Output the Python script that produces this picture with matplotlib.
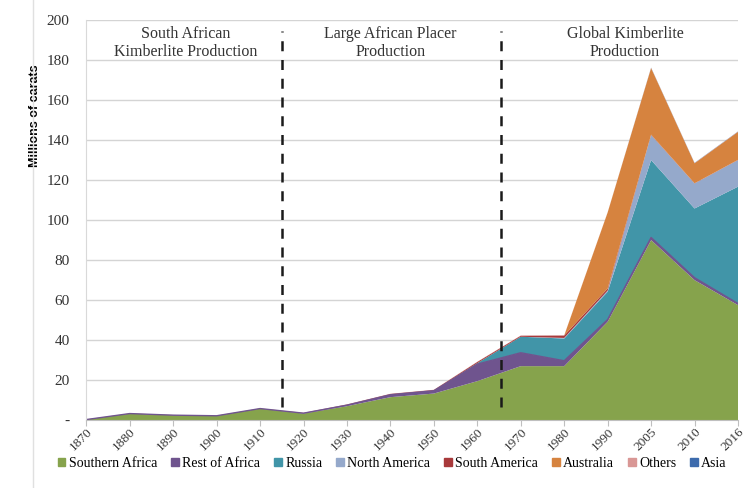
import matplotlib
matplotlib.use('Agg')
import matplotlib.pyplot as plt
import numpy as np

years = ['1870', '1880', '1890', '1900', '1910', '1920', '1930', '1940', '1950',
         '1960', '1970', '1980', '1990', '2005', '2010', '2016']
southern_africa = [0.3, 3.3, 2.5, 2.2, 5.8, 3.3, 7.0, 11.5, 13.3, 19.5, 27.0, 27.0, 49.2, 90.0, 70.0, 57.5]
rest_of_africa = [0, 0, 0, 0, 0, 0.2, 0.5, 1.2, 1.4, 8.5, 6.7, 2.7, 1.1, 1.3, 1.2, 0.8]
russia = [0, 0, 0, 0, 0, 0, 0, 0, 0, 0.5, 8.0, 11.1, 13.9, 38.7, 34.6, 58.4]
north_america = [0, 0, 0, 0, 0, 0, 0, 0, 0, 0, 0, 0.3, 0.6, 12.5, 12.5, 13.3]
south_america = [0, 0, 0, 0, 0, 0.1, 0.3, 0.4, 0.4, 0.6, 0.5, 1.2, 1.0, 0.2, 0.1, 0.1]
australia = [0, 0, 0, 0, 0, 0, 0, 0, 0, 0, 0, 0, 38.0, 33.3, 10.0, 14.0]
others = [0.1, 0.1, 0.1, 0.1, 0.1, 0.1, 0.1, 0.1, 0.1, 0.1, 0.1, 0.1, 0.1, 0.1, 0.1, 0.1]
asia = [0, 0, 0, 0, 0, 0, 0, 0, 0, 0, 0, 0, 0, 0.1, 0.1, 0.1]

series = [southern_africa, rest_of_africa, russia, north_america,
          south_america, australia, others, asia]
names = ['Southern Africa', 'Rest of Africa', 'Russia', 'North America',
         'South America', 'Australia', 'Others', 'Asia']
colors = ['#86A34C', '#6F548E', '#4195A8', '#95A9CB', '#A8393B', '#D6833F', '#D99795', '#3D6BAD']

serif = ['Liberation Serif', 'DejaVu Serif']

fig = plt.figure(figsize=(7.5, 4.88), dpi=100)
ax = fig.add_axes([0.115, 0.139, 0.869, 0.82])

x = np.arange(len(years))
ax.stackplot(x, *series, colors=colors, labels=names, linewidth=0)
# thin purple edge over the green, as in the source
ax.plot(x, np.array(southern_africa) + np.array(rest_of_africa), color='#6F548E', linewidth=1)

ax.set_xlim(0, len(years) - 1)
ax.set_ylim(0, 200)
ax.set_yticks(np.arange(0, 201, 20))
ax.set_yticklabels(['-'] + [str(v) for v in range(20, 201, 20)], family=serif, fontsize=11, color='#333333')
ax.set_xticks(x)
ax.set_xticklabels(years, rotation=45, ha='right', rotation_mode='anchor', family=serif, fontsize=9.5, color='#333333')
ax.tick_params(axis='y', length=0, pad=12)
ax.tick_params(axis='x', length=4, color='#BFBFBF', pad=0)

ax.grid(axis='y', color='#D4D4D4', linewidth=1)
ax.set_axisbelow(True)
for s in ['top', 'right']:
    ax.spines[s].set_visible(False)
ax.spines['left'].set_color('#D9D9D9')
ax.spines['bottom'].set_color('#BFBFBF')

ax.set_ylabel('Millions of carats', fontsize=9, fontweight='bold', family=['Liberation Sans', 'DejaVu Sans'])
ax.yaxis.set_label_coords(-0.07, 0.76)

# dashed era separators
ax.vlines([4.5, 9.55], 6.5, 194.5, colors='#1A1A1A', linestyles=(0, (4, 3.5)), linewidth=1.8)

for tx, txt in [(2.3, 'South African\nKimberlite Production'),
                (7.0, 'Large African Placer\nProduction'),
                (12.4, 'Global Kimberlite\nProduction')]:
    ax.text(tx, 188.5, txt, ha='center', va='center', family=serif, fontsize=11.5,
            color='#333333', linespacing=1.15)

handles = [plt.Rectangle((0, 0), 1, 1, color=c) for c in colors]
fig.legend(handles, names, loc='center', bbox_to_anchor=(0.523, 0.05), ncol=8, frameon=False,
           prop={'family': serif, 'size': 10}, handlelength=0.55, handleheight=0.55,
           handletextpad=0.25, columnspacing=1.0)

# faint page border on the left
fig.add_artist(plt.Line2D([0.044, 0.044], [0.0, 1.0], color='#E0E0E0', linewidth=1))

fig.savefig('out.png', dpi=100)
